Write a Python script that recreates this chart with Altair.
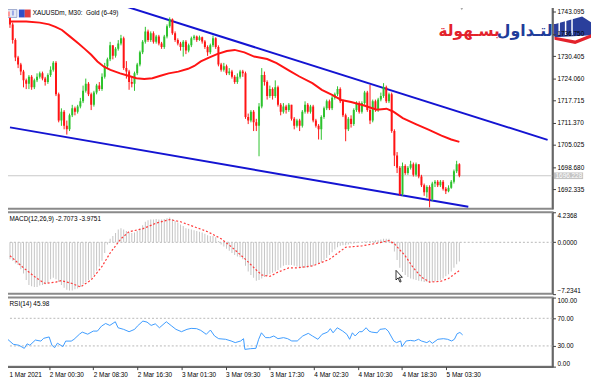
import json
import altair as alt
import pandas as pd

# ---------------- data ----------------
FIRST_OPEN = 1741.5
closes = [
    1739.5, 1735.0, 1730.0, 1728.0, 1726.0, 1723.5, 1722.5, 1724.5, 1721.5, 1723.5,
    1724.5, 1725.5, 1724.0, 1723.0, 1725.0, 1726.5, 1728.5, 1719.5, 1712.0, 1714.5,
    1710.5, 1709.5, 1713.5, 1715.5, 1714.5, 1716.0, 1717.5, 1720.5, 1722.5, 1719.5,
    1716.5, 1720.0, 1722.0, 1721.0, 1724.5, 1727.5, 1729.5, 1733.5, 1730.5, 1732.5,
    1734.0, 1735.5, 1727.0, 1726.0, 1723.0, 1722.5, 1725.5, 1728.0, 1731.5, 1734.5,
    1737.5, 1735.0, 1737.0, 1734.5, 1736.0, 1734.0, 1733.0, 1736.0, 1739.0, 1741.0,
    1737.0, 1735.0, 1734.0, 1733.0, 1734.5, 1732.0, 1733.5, 1735.5, 1736.0, 1735.0,
    1735.8, 1734.6, 1733.0, 1731.5, 1733.5, 1735.5, 1733.0, 1728.0, 1726.5, 1727.5,
    1725.5, 1726.0, 1724.5, 1723.0, 1724.5, 1726.0, 1725.5, 1713.0, 1712.0, 1714.5,
    1711.5, 1710.5, 1716.0, 1725.0, 1723.0, 1719.0, 1721.0, 1719.0, 1721.5, 1716.5,
    1714.5, 1716.0, 1715.0, 1716.5, 1712.5, 1710.5, 1712.0, 1710.5, 1714.5, 1716.5,
    1714.5, 1716.0, 1712.0, 1710.5, 1709.5, 1713.0, 1715.5, 1717.5, 1715.5, 1718.5,
    1719.5, 1721.0, 1717.5, 1713.5, 1709.5, 1712.5, 1711.0, 1715.0, 1717.0, 1714.5,
    1717.0, 1720.0, 1715.0, 1712.0, 1717.5, 1715.0, 1718.0, 1719.0, 1721.5, 1717.5,
    1719.5, 1709.0, 1702.0, 1698.5, 1691.0, 1699.0, 1697.0, 1698.5, 1699.5, 1696.5,
    1699.5, 1696.0, 1693.5, 1691.5, 1693.0, 1689.5, 1694.0, 1694.5, 1693.5, 1694.5,
    1692.5, 1691.8, 1692.8, 1694.5, 1697.5, 1699.5, 1696.2,
]
highs = [
    1742.5, 1740.0, 1735.5, 1730.5, 1728.5, 1726.5, 1724.0, 1725.0, 1725.0, 1724.0,
    1725.5, 1726.0, 1726.0, 1724.5, 1725.5, 1727.5, 1729.0, 1729.0, 1720.0, 1715.5,
    1715.0, 1712.0, 1714.0, 1716.5, 1716.0, 1716.5, 1718.5, 1722.0, 1724.0, 1723.0,
    1720.0, 1720.5, 1722.5, 1723.0, 1725.5, 1728.5, 1730.0, 1734.5, 1733.5, 1733.0,
    1735.0, 1736.5, 1736.0, 1729.0, 1726.5, 1724.5, 1726.0, 1728.5, 1732.0, 1735.0,
    1738.8, 1738.0, 1737.5, 1737.5, 1736.5, 1736.5, 1734.5, 1736.5, 1739.5, 1741.5,
    1741.2, 1737.5, 1735.5, 1734.5, 1735.0, 1735.0, 1734.0, 1736.0, 1736.5, 1736.3,
    1736.3, 1736.0, 1735.0, 1733.5, 1734.0, 1736.3, 1735.8, 1733.5, 1728.5, 1728.5,
    1728.0, 1727.0, 1726.5, 1725.0, 1725.5, 1726.5, 1726.5, 1726.0, 1714.0, 1715.0,
    1715.0, 1712.5, 1717.0, 1727.0, 1726.0, 1723.5, 1722.0, 1721.5, 1723.5, 1722.0,
    1717.0, 1717.0, 1716.5, 1717.0, 1716.5, 1713.0, 1712.5, 1712.5, 1715.0, 1717.5,
    1717.0, 1716.5, 1716.5, 1712.5, 1711.0, 1713.5, 1716.0, 1718.0, 1718.0, 1719.0,
    1720.0, 1721.8, 1721.5, 1718.0, 1714.0, 1713.0, 1713.5, 1715.5, 1717.5, 1717.5,
    1717.5, 1720.5, 1720.5, 1722.2, 1718.0, 1718.0, 1718.5, 1720.0, 1722.7, 1722.0,
    1720.0, 1720.0, 1709.5, 1703.0, 1699.0, 1700.0, 1699.5, 1699.0, 1700.5, 1700.0,
    1700.0, 1699.5, 1696.5, 1694.0, 1693.5, 1693.5, 1694.5, 1695.0, 1695.0, 1695.0,
    1695.0, 1693.0, 1693.5, 1695.0, 1698.0, 1700.5, 1699.8,
]
lows = [
    1738.5, 1734.0, 1729.0, 1727.0, 1725.0, 1721.5, 1721.0, 1721.0, 1720.8, 1721.0,
    1723.0, 1724.0, 1723.5, 1722.0, 1722.5, 1724.5, 1726.0, 1719.0, 1711.5, 1710.5,
    1709.5, 1708.0, 1709.0, 1713.0, 1713.5, 1714.0, 1715.5, 1717.0, 1720.0, 1719.0,
    1715.0, 1716.0, 1719.5, 1720.5, 1720.5, 1724.0, 1727.0, 1729.0, 1729.5, 1730.0,
    1732.0, 1733.5, 1726.5, 1724.0, 1720.8, 1721.5, 1720.5, 1725.0, 1727.5, 1731.0,
    1734.0, 1734.5, 1734.5, 1734.0, 1734.0, 1733.5, 1732.5, 1732.5, 1735.5, 1738.5,
    1736.5, 1734.5, 1733.5, 1732.0, 1730.3, 1731.0, 1731.5, 1733.0, 1735.0, 1734.5,
    1734.8, 1734.0, 1732.5, 1730.5, 1731.0, 1733.0, 1732.5, 1727.5, 1726.0, 1726.0,
    1725.0, 1725.0, 1724.0, 1722.5, 1722.5, 1724.0, 1724.5, 1712.5, 1711.0, 1711.5,
    1709.0, 1709.0, 1701.8, 1715.5, 1722.0, 1718.0, 1718.5, 1718.0, 1718.5, 1716.0,
    1713.5, 1714.0, 1714.0, 1714.5, 1712.0, 1709.5, 1710.0, 1709.0, 1710.0, 1714.0,
    1714.0, 1714.0, 1711.5, 1710.0, 1706.6, 1706.5, 1712.5, 1715.0, 1715.0, 1715.0,
    1718.0, 1719.0, 1717.0, 1713.0, 1706.1, 1709.0, 1710.0, 1710.5, 1714.5, 1714.0,
    1714.0, 1716.5, 1714.5, 1711.0, 1711.5, 1714.5, 1714.5, 1717.5, 1718.5, 1717.0,
    1717.0, 1708.5, 1699.0, 1697.0, 1690.5, 1690.5, 1696.5, 1696.5, 1698.0, 1696.0,
    1696.0, 1695.5, 1693.0, 1690.5, 1690.0, 1687.2, 1689.0, 1693.0, 1693.0, 1693.0,
    1692.0, 1691.0, 1691.5, 1692.5, 1694.0, 1697.0, 1695.8,
]

ma_k = [0, 6, 11, 14.4, 16.8, 19.2, 22.2, 25.2, 27.6, 30, 32.3, 34.7, 37.1, 40.7, 43.7,
        46.7, 49.6, 52.6, 55.6, 58.6, 62.2, 65.8, 68.1, 70.5, 73.5, 76.5, 80.1, 83, 86.6,
        90.2, 95, 98.5, 103.3, 106.9, 111.7, 115.2, 118.8, 122.4, 126, 130.8, 135.5,
        139.1, 141.5, 145.1, 149.9, 154.6, 159.4, 163, 166]
ma_v = [1740.3, 1740.3, 1740.0, 1739.5, 1738.8, 1737.9, 1736.0, 1734.1, 1732.5, 1730.8,
        1728.9, 1727.4, 1726.5, 1725.5, 1724.8, 1724.1, 1723.9, 1724.1, 1724.8, 1725.5,
        1726.0, 1726.8, 1727.6, 1728.9, 1730.0, 1731.0, 1731.9, 1732.2, 1731.5, 1730.3,
        1729.6, 1728.4, 1726.2, 1724.6, 1722.7, 1720.8, 1719.4, 1717.9, 1717.3, 1716.3,
        1715.1, 1715.4, 1714.6, 1712.7, 1711.0, 1709.4, 1707.7, 1706.6, 1705.9]

upper_k = [42.9, 198.6]
upper_p = [1744.6, 1706.5]
lower_k = [0.0, 169.3]
lower_p = [1710.05, 1687.34]

BID = 1696.228

macd_hist = [
    -2.4, -2.6, -3.0, -3.2, -3.8, -4.4, -5.3, -6.0, -6.2, -6.3,
    -6.3, -6.1, -6.0, -5.9, -5.7, -5.2, -5.0, -5.2, -5.6, -6.0,
    -6.4, -6.7, -6.8, -6.8, -6.6, -6.5, -6.3, -5.9, -5.6, -5.3,
    -5.1, -4.6, -4.0, -3.4, -2.6, -1.5, -0.3, 0.5, 0.9, 1.3,
    1.8, 2.0, 1.8, 1.6, 1.4, 1.3, 1.4, 1.6, 2.0, 2.4,
    2.9, 3.1, 3.2, 3.2, 3.3, 3.2, 3.2, 3.3, 3.4, 3.5,
    3.3, 3.0, 2.8, 2.5, 2.3, 2.0, 1.9, 1.8, 1.7, 1.6,
    1.5, 1.4, 1.2, 1.0, 0.9, 0.9, 0.7, 0.2, -0.3, -0.6,
    -0.9, -1.2, -1.5, -1.8, -2.0, -2.1, -2.4, -3.3, -4.1, -4.6,
    -5.0, -5.4, -5.3, -5.1, -4.9, -4.7, -4.5, -4.3, -4.1, -3.9,
    -3.6, -3.3, -3.2, -3.2, -3.2, -3.3, -3.4, -3.6, -3.6, -3.6,
    -3.6, -3.4, -3.3, -3.1, -3.0, -2.8, -2.5, -2.2, -1.8, -1.4,
    -1.0, -0.7, -0.5, -0.4, -0.4, -0.3, -0.2, -0.2, -0.1, 0.0,
    0.0, 0.1, 0.1, 0.2, 0.2, 0.3, 0.3, 0.4, 0.5, 0.5,
    0.5, -0.2, -1.3, -2.5, -3.6, -4.2, -4.6, -4.9, -5.1, -5.2,
    -5.3, -5.4, -5.5, -5.6, -5.6, -5.7, -5.6, -5.5, -5.4, -5.3,
    -5.1, -4.8, -4.5, -4.1, -3.6, -3.1, -2.7073,
]
sig_k = [0, 5, 10, 13, 17, 19, 23, 26, 30, 34, 37, 41, 44, 49, 54, 59, 63, 68, 73, 78,
         82, 87, 91, 93, 96, 99, 103, 106, 112, 118, 124, 130, 136, 140, 142, 146, 149,
         152, 155, 159, 162, 166]
sig_v = [-1.9, -3.6, -5.1, -5.8, -5.6, -5.4, -5.8, -6.3, -5.3, -3.4, -1.5, 0.5, 1.5, 1.9,
         2.7, 3.2, 2.9, 2.2, 1.5, 0.5, -0.7, -2.4, -3.9, -4.6, -4.8, -4.2, -3.6, -3.6,
         -3.3, -2.4, -0.7, -0.5, -0.1, 0.25, -0.2, -1.9, -3.6, -4.9, -5.6, -5.5, -5.1,
         -3.9751]

rsi_k = [0, 3, 5, 7, 8, 9, 11, 13, 14, 16, 17, 18, 19, 21, 22, 24, 25, 27, 28, 30,
         32, 33.5, 35, 36.5, 38, 40, 41, 43, 45, 47, 48, 50, 51.5, 53, 54.5, 56, 58.5,
         60.5, 62, 64, 66, 67.5, 69.5, 71, 73, 74.5, 76, 77.5, 80, 82, 83.5, 85.5, 86.5,
         87, 89, 91, 92, 93, 94.5, 96, 97.5, 99, 101, 102.5, 104, 106, 108, 110, 111.5,
         113.5, 115, 117, 118, 119, 120.5, 122.5, 124, 125, 126, 127, 128.5, 129.5, 131,
         132, 133, 135, 136, 138, 139, 141, 142, 143.5, 144, 145.5, 147, 148.5, 150, 151,
         153, 154, 155, 157, 159, 160.5, 162, 163, 164, 165, 166]
rsi_v = [43, 32.4, 31, 26.5, 33, 31, 38.5, 37, 41, 43, 31, 27.5, 34, 29, 37, 37, 39.5, 47,
         50, 47, 51.5, 51.5, 58.7, 62.5, 59.7, 65, 56.3, 54, 50.6, 54, 58.7, 66, 64.5,
         59.7, 62, 56.3, 65, 58.7, 54, 50.6, 54, 55.4, 55, 52.5, 46.8, 53, 44.4, 40.5,
         39.6, 37.2, 34.8, 37.2, 40.5, 25, 26, 26.5, 39.6, 49, 42, 42, 44.4, 40.5, 42,
         40.5, 37.2, 37.2, 44.4, 48.2, 44.4, 39.6, 46.8, 50, 55, 49, 56.3, 51.5, 46.8,
         39.6, 49, 44.4, 50.6, 50.6, 56.3, 51.5, 50, 49, 54, 55, 51.5, 37.2, 34.8, 37.2,
         29, 37.2, 38, 37.2, 39.6, 37.2, 34.8, 37.2, 33.8, 39.6, 40.5, 39.6, 37.2, 39.6,
         47.7, 49.5, 45.98]

time_labels = ["1 Mar 2021", "2 Mar 00:30", "2 Mar 08:30", "2 Mar 16:30", "3 Mar 01:30",
               "3 Mar 09:30", "3 Mar 17:30", "4 Mar 02:30", "4 Mar 10:30", "4 Mar 18:30",
               "5 Mar 03:30"]
time_ticks = [0, 16, 32, 48, 64, 80, 96, 112, 128, 144, 160]
price_ticks = [1743.095, 1736.750, 1730.405, 1724.060, 1717.715, 1711.370, 1705.025,
               1698.680, 1692.335]
macd_ticks = [4.2368, 0.0, -7.2341]
rsi_ticks = [100, 70, 30, 0]
rsi_levels = [30, 70]

TITLE_MAIN = "XAUUSDm, M30:\u00a0 Gold (6-49)"
TITLE_MACD = "MACD(12,26,9) -2.7073 -3.9751"
TITLE_RSI = "RSI(14) 45.98"
LOGO_BLUE = "التـداول"
LOGO_RED = "بسـهولة"

# ---------------- styling ----------------
FONT = "Liberation Sans"
FS = 6.5
GREEN = "#2cc22c"
RED = "#ff1414"
BLUE = "#1414d2"
W = 555
H_MAIN, H_MACD, H_RSI = 205, 82.5, 70

n = len(closes)
opens = [FIRST_OPEN] + closes[:-1]
cdf = pd.DataFrame({"k": list(range(n)), "open": opens, "close": closes,
                    "high": highs, "low": lows})

xs = alt.Scale(domain=[0, 198.6], nice=False, zero=False)
ps = alt.Scale(domain=[1686.78, 1744.59], nice=False, zero=False)
ms = alt.Scale(domain=[-7.2341, 4.2368], nice=False, zero=False)
rs = alt.Scale(domain=[0, 100], nice=False, zero=False)

price_axis = alt.Axis(orient="right", values=price_ticks, format=".3f", title=None,
                      grid=False, labelFlush=False, zindex=1)
macd_axis = alt.Axis(orient="right", values=macd_ticks, format=".4f", title=None,
                     grid=False, labelFlush=True)
rsi_axis = alt.Axis(orient="right", values=rsi_ticks, format=".2f", title=None,
                    grid=False, labelFlush=True)
time_axis = alt.Axis(values=time_ticks, title=None, grid=False, labelFlush=False,
                     labelOverlap=False, labelAlign="left", labelBaseline="top",
                     labelPadding=1.5,
                     labelOffset={"condition": {"test": "datum.value == 0", "value": 4},
                                  "value": 0},
                     labelExpr=json.dumps(time_labels) + "[round(datum.value/16)]")

x_none = alt.X("k:Q", scale=xs, axis=None)
col = alt.when(alt.datum.close >= alt.datum.open).then(alt.value(GREEN)).otherwise(alt.value(RED))


def text_layer(txt, x, y, size=FS, color="black", align="left", font=FONT,
               weight="normal", baseline="middle"):
    return alt.Chart(pd.DataFrame({"t": [txt]})).mark_text(
        align=align, baseline=baseline, font=font, fontSize=size, color=color,
        fontWeight=weight).encode(x=alt.value(x), y=alt.value(y), text="t:N")


def box(x1, x2, y1, y2, fill, stroke=None, sw=0.0):
    kw = {"fill": fill}
    if stroke:
        kw.update({"stroke": stroke, "strokeWidth": sw})
    return alt.Chart(pd.DataFrame({"a": [0]})).mark_rect(**kw).encode(
        x=alt.value(x1), x2=alt.value(x2), y=alt.value(y1), y2=alt.value(y2))


def shape(path, x, y, size, fill):
    return alt.Chart(pd.DataFrame({"a": [0]})).mark_point(
        shape=path, filled=True, fill=fill, size=size, opacity=1, strokeWidth=0).encode(
        x=alt.value(x), y=alt.value(y))


# ---------------- main price panel ----------------
bidline = alt.Chart(pd.DataFrame({"p": [BID]})).mark_rule(
    color="#c8c8c8", strokeWidth=1).encode(y=alt.Y("p:Q", scale=ps, axis=price_axis))
wicks = alt.Chart(cdf).mark_rule(strokeWidth=1, clip=True).encode(
    x=x_none, y=alt.Y("low:Q", scale=ps, axis=price_axis), y2="high:Q", color=col)
bodies = alt.Chart(cdf).mark_bar(size=2, clip=True).encode(
    x=x_none, y=alt.Y("open:Q", scale=ps, axis=price_axis), y2="close:Q", color=col)
ma = alt.Chart(pd.DataFrame({"k": ma_k, "p": ma_v})).mark_line(
    color=RED, strokeWidth=2, clip=True).encode(
    x=x_none, y=alt.Y("p:Q", scale=ps, axis=price_axis))
chan_df = pd.DataFrame({"line": ["u"] * len(upper_k) + ["l"] * len(lower_k),
                        "k": upper_k + lower_k, "p": upper_p + lower_p})
channels = alt.Chart(chan_df).mark_line(color=BLUE, strokeWidth=2, clip=True).encode(
    x=x_none, y=alt.Y("p:Q", scale=ps, axis=price_axis), detail="line:N")
bid_df = pd.DataFrame({"lo": [BID - 0.95], "hi": [BID + 0.95], "p": [BID],
                       "t": ["%.3f" % BID]})
bidbox = alt.Chart(bid_df).mark_rect(color="#c4c4c4").encode(
    x=alt.value(556), x2=alt.value(586),
    y=alt.Y("lo:Q", scale=ps, axis=price_axis), y2="hi:Q")
bidtext = alt.Chart(bid_df).mark_text(align="left", baseline="middle", font=FONT,
                                      fontSize=FS, color="white").encode(
    x=alt.value(558), y=alt.Y("p:Q", scale=ps, axis=price_axis), text="t:N")
shift_mark = alt.Chart(pd.DataFrame({"a": [0]})).mark_point(
    shape="triangle-down", filled=True, color="#a8a8a8", size=16, opacity=1).encode(
    x=alt.value(463), y=alt.value(2))

BADGE = "M-0.947,-0.263L0.526,-0.684L1,-0.368L1,0.316L-0.947,0.421Z"
CHEVRON = "M-0.947,0.395L0.158,0.605L1,0.263L1,0.447L0.158,0.789L-0.947,0.553Z"

main_layers = [
    bidline, channels, wicks, bodies, ma,
    box(0, 12, 3, 11, "#e4e8f4", "#8c98c4", 0.8),
    box(3, 5, 5, 10, "#ff9a9a"), box(7, 9, 4, 9, "#9aa8e8"),
    box(14, 20, 3, 11, "#3050c8"), box(20, 26, 3, 11, "#e04040"),
    text_layer(TITLE_MAIN, 28, 7),
    text_layer(LOGO_RED, 470.5, 30, size=15.5, color="#e3222b", align="center",
               font="DejaVu Sans", weight="bold", baseline="alphabetic"),
    text_layer(LOGO_BLUE, 529.5, 30, size=16, color="#1f3c9a", align="center",
               font="DejaVu Sans", weight="bold", baseline="alphabetic"),
    shape(BADGE, 575, 23, 1444, "#2a3f9c"),
    box(561, 562.5, 14, 29, "white"), box(567.5, 569, 12, 29, "white"),
    box(574, 575.5, 10, 29, "white"),
    shape(CHEVRON, 575, 23, 1444, "#e3222b"),
    shift_mark, bidbox, bidtext,
]
main = alt.layer(*main_layers).properties(width=W, height=H_MAIN)

# ---------------- MACD panel ----------------
mdf = pd.DataFrame({"k": list(range(len(macd_hist))), "h": macd_hist})
zero_line = alt.Chart(pd.DataFrame({"v": [0.0]})).mark_rule(
    color="#b8b8b8", strokeDash=[2, 2], strokeWidth=1).encode(
    y=alt.Y("v:Q", scale=ms, axis=macd_axis))
histo = alt.Chart(mdf).mark_bar(size=1, color="#c4c4c4", clip=True).encode(
    x=x_none, y=alt.Y("h:Q", scale=ms, axis=macd_axis), y2=alt.datum(0))
signal = alt.Chart(pd.DataFrame({"k": sig_k, "v": sig_v})).mark_line(
    color="#ff3a3a", strokeDash=[2, 2], strokeWidth=1.2, clip=True).encode(
    x=x_none, y=alt.Y("v:Q", scale=ms, axis=macd_axis))
cursor = alt.Chart(pd.DataFrame({"a": [0]})).mark_point(
    shape="M-0.6,-1L-0.6,0.6L-0.25,0.25L0.05,0.95L0.25,0.85L-0.05,0.15L0.45,0.15Z",
    filled=True, fill="white", stroke="black", strokeWidth=0.8, size=150,
    opacity=1).encode(x=alt.value(400), y=alt.value(65))
macd = alt.layer(zero_line, histo, signal, text_layer(TITLE_MACD, 4.5, 7), cursor
                 ).properties(width=W, height=H_MACD)

# ---------------- RSI panel ----------------
levels = alt.Chart(pd.DataFrame({"v": rsi_levels})).mark_rule(
    color="#b8b8b8", strokeDash=[2, 2], strokeWidth=1).encode(
    y=alt.Y("v:Q", scale=rs, axis=rsi_axis))
rsi_line = alt.Chart(pd.DataFrame({"k": rsi_k, "v": rsi_v})).mark_line(
    color="#3d9bff", strokeWidth=1, clip=True).encode(
    x=alt.X("k:Q", scale=xs, axis=time_axis),
    y=alt.Y("v:Q", scale=rs, axis=rsi_axis))
rsi = alt.layer(levels, rsi_line, text_layer(TITLE_RSI, 4.5, 6.5)).properties(
    width=W, height=H_RSI)

chart = alt.vconcat(main, macd, rsi, spacing=3.5).properties(
    padding={"left": -5, "top": -5, "right": 0, "bottom": 0},
    bounds="flush",
).configure_view(
    stroke="#8a8a8a", strokeWidth=2
).configure_axis(
    labelFont=FONT, labelFontSize=FS, labelColor="#000000", domainColor="#404040",
    tickColor="#404040", tickSize=3, labelPadding=1.5, domainWidth=1, tickWidth=1
)

chart.save("out.html", embed_options={"renderer": "svg", "actions": False})
